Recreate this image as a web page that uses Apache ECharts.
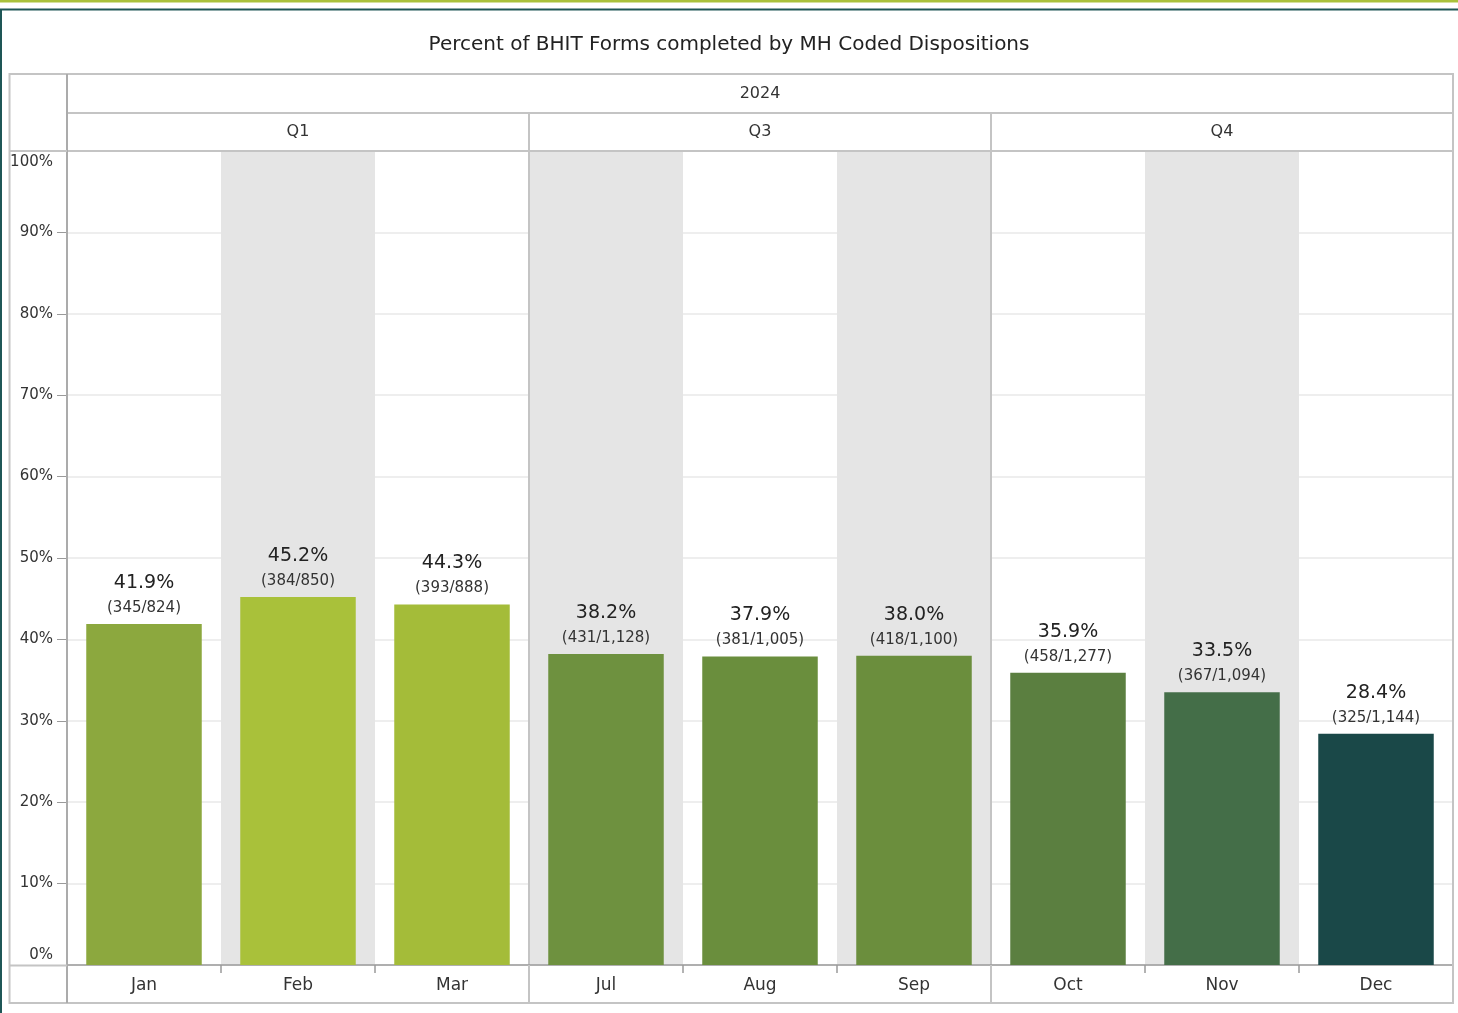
<!DOCTYPE html>
<html>
<head>
<meta charset="utf-8">
<script src="https://cdn.jsdelivr.net/npm/echarts@6/dist/echarts.min.js"></script>
<style>
  html, body { margin: 0; padding: 0; background: #fff; }
  #chart { width: 1458px; height: 1013px; }
</style>
</head>
<body>
<div id="chart"></div>
<script>
// Monthly share of BHIT forms completed, 2024
const year = ['2024'];
const quarters = ['Q1', 'Q3', 'Q4'];
const months = ['Jan', 'Feb', 'Mar', 'Jul', 'Aug', 'Sep', 'Oct', 'Nov', 'Dec'];
const percents = [41.9, 45.2, 44.3, 38.2, 37.9, 38.0, 35.9, 33.5, 28.4];
const completed = [345, 384, 393, 431, 381, 418, 458, 367, 325];
const totals = [824, 850, 888, 1128, 1005, 1100, 1277, 1094, 1144];
const yTicks = [0, 10, 20, 30, 40, 50, 60, 70, 80, 90, 100];

const barColors = ['#8ca83e', '#a9c13a', '#a4bc39', '#6e913f', '#6a8e3d',
                   '#6b8e3d', '#5b7f40', '#446e48', '#1a4848'];

const FONT = 'DejaVu Sans';
const TXT = '#333';
const FRAME = '#c4c4c4';

const chart = echarts.init(document.getElementById('chart'), null, { renderer: 'canvas' });

const option = {
  backgroundColor: '#fff',
  animation: false,
  textStyle: { fontFamily: FONT },
  title: {
    text: 'Percent of BHIT Forms completed by MH Coded Dispositions',
    left: 'center',
    top: 30,
    textStyle: { fontFamily: FONT, fontSize: 20, fontWeight: 'normal', color: '#222' }
  },
  grid: { left: 67, right: 5, top: 151, bottom: 48, containLabel: false },
  xAxis: [
    {
      type: 'category', data: months, position: 'bottom', gridIndex: 0,
      axisLine: { show: true, lineStyle: { color: '#9a9a9a', width: 1.5 } },
      axisTick: { show: true, length: 8, lineStyle: { color: '#9a9a9a', width: 1.5 } },
      axisLabel: { margin: 12, fontSize: 17, color: TXT, fontFamily: FONT },
      splitArea: { show: true, areaStyle: { color: ['rgba(255,255,255,0)', '#e5e5e5'] } },
      splitLine: { show: false }
    },
    {
      type: 'category', data: quarters, position: 'bottom', gridIndex: 0,
      axisLine: { show: false },
      axisTick: { show: true, length: 38, lineStyle: { color: FRAME, width: 2 } },
      axisLabel: { show: false },
      splitLine: { show: true, lineStyle: { color: FRAME, width: 2 } }
    },
    {
      type: 'category', data: quarters, position: 'top', gridIndex: 0,
      axisLine: { show: true, lineStyle: { color: FRAME, width: 2 } },
      axisTick: { show: true, length: 38, lineStyle: { color: FRAME, width: 2 } },
      axisLabel: { margin: 11, fontSize: 16, color: TXT, fontFamily: FONT },
      splitLine: { show: false }
    },
    {
      type: 'category', data: year, position: 'top', offset: 38, gridIndex: 0,
      axisLine: { show: true, lineStyle: { color: FRAME, width: 2 } },
      axisTick: { show: true, length: 39, lineStyle: { color: FRAME, width: 2 } },
      axisLabel: { margin: 11, fontSize: 16, color: TXT, fontFamily: FONT },
      splitLine: { show: false }
    }
  ],
  yAxis: {
    type: 'value', min: yTicks[0], max: yTicks[yTicks.length - 1], interval: 10,
    axisLine: { show: false },
    axisTick: { show: true, length: 10, lineStyle: { color: '#9a9a9a' } },
    axisLabel: {
      // end labels sit inside the plot edges, nudged off the frame lines
      formatter: (v) => v === yTicks[yTicks.length - 1] ? '{hi|' + v + '%}'
                      : v === yTicks[0] ? '{lo|' + v + '%}' : v + '%',
      rich: {
        hi: { fontSize: 15, color: TXT, fontFamily: FONT, padding: [4, 0, 0, 0] },
        lo: { fontSize: 15, color: TXT, fontFamily: FONT, padding: [0, 0, 2, 0] }
      },
      margin: 14, fontSize: 15, color: TXT, fontFamily: FONT,
      verticalAlignMinLabel: 'bottom', verticalAlignMaxLabel: 'top'
    },
    splitLine: { show: true, lineStyle: { color: '#e8e8e8', width: 1.5 } }
  },
  series: [{
    type: 'bar',
    xAxisIndex: 0,
    barWidth: '75%',
    data: percents.map((v, i) => ({ value: v, itemStyle: { color: barColors[i] } })),
    label: {
      show: true,
      position: 'top',
      distance: 5,
      formatter: (p) => {
        const i = p.dataIndex;
        return '{p|' + percents[i].toFixed(1) + '%}\n{f|(' +
          completed[i].toLocaleString('en-US') + '/' + totals[i].toLocaleString('en-US') + ')}';
      },
      rich: {
        p: { fontSize: 19, lineHeight: 28, color: '#222', fontFamily: FONT },
        f: { fontSize: 15, lineHeight: 22, color: TXT, fontFamily: FONT }
      }
    },
    z: 3
  }],
  graphic: [
    { type: 'rect', shape: { x: 0, y: 0, width: 1458, height: 2.5 }, style: { fill: '#a9c13b' }, z: 50 },
    { type: 'line', shape: { x1: 0, y1: 9.5, x2: 1458, y2: 9.5 }, style: { stroke: '#1e5656', lineWidth: 2 }, z: 50 },
    { type: 'line', shape: { x1: 1, y1: 9, x2: 1, y2: 1013 }, style: { stroke: '#1e5656', lineWidth: 2 }, z: 50 },
    { type: 'rect', shape: { x: 9.5, y: 74, width: 1443.5, height: 929 }, style: { fill: null, stroke: FRAME, lineWidth: 2 }, z: 50 },
    { type: 'line', shape: { x1: 67, y1: 74, x2: 67, y2: 1003 }, style: { stroke: '#ababab', lineWidth: 2 }, z: 50 },
    { type: 'line', shape: { x1: 9, y1: 151, x2: 67, y2: 151 }, style: { stroke: FRAME, lineWidth: 2 }, z: 50 },
    { type: 'line', shape: { x1: 9, y1: 965.5, x2: 67, y2: 965.5 }, style: { stroke: FRAME, lineWidth: 2 }, z: 50 }
  ]
};

chart.setOption(option);
</script>
</body>
</html>
